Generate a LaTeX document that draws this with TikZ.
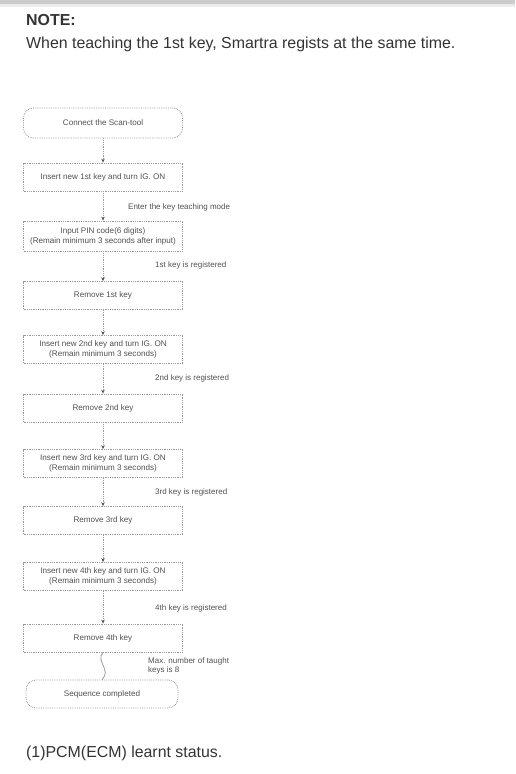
\documentclass[tikz,border=0pt]{standalone}
\usepackage{fontspec}
\setmainfont{Liberation Sans}
\usetikzlibrary{arrows.meta}

\definecolor{txt}{HTML}{333333}
\definecolor{boxline}{HTML}{999999}
\definecolor{boxtext}{HTML}{505050}

\tikzset{
  stepbox/.style={draw=boxline, densely dotted, line width=0.8pt, minimum width=159pt,
    minimum height=28pt, inner sep=0pt, font=\fontsize{8.1}{10}\selectfont, text=boxtext, align=center},
  endbox/.style={stepbox, rounded corners=10pt},
  flow/.style={draw=boxline, densely dotted, line width=0.8pt, -{Stealth[length=4pt,width=3.5pt,color=boxtext]}},
  note/.style={font=\fontsize{8}{9.5}\selectfont, text=boxtext, anchor=west, align=left, inner sep=0pt},
}

\begin{document}
\begin{tikzpicture}[x=1pt, y=-1pt]
		\useasboundingbox (0,0) rectangle (515,774);
		\fill[gray!40] (0,0) rectangle (515,4);
		\fill[gray!15] (0,4) rectangle (515,7);
		\node[anchor=base west, inner sep=0pt, text=txt, font=\bfseries\fontsize{15.9}{19}\selectfont] (title) at (26,25) {NOTE:};
		\node[anchor=base west, inner sep=0pt, text=txt, font=\fontsize{15.9}{19}\selectfont] (intro) at (26,48) {When teaching the 1st key, Smartra regists at the same time.};
		% flow chart
		\node[endbox, minimum height=30pt] (start) at (103,123) {Connect the Scan-tool};
		\node[stepbox] (k1) at (103,177) {Insert new 1st key and turn IG. ON};
		\node[stepbox, minimum height=30pt] (pin) at (103,236) {Input PIN code(6 digits)\\(Remain minimum 3 seconds after input)};
		\node[stepbox] (rm1) at (103,295.5) {Remove 1st key};
		\node[stepbox] (k2) at (103,349.5) {Insert new 2nd key and turn IG. ON\\(Remain minimum 3 seconds)};
		\node[stepbox] (rm2) at (103,408) {Remove 2nd key};
		\node[stepbox] (k3) at (103,463.5) {Insert new 3rd key and turn IG. ON\\(Remain minimum 3 seconds)};
		\node[stepbox] (rm3) at (103,520.5) {Remove 3rd key};
		\node[stepbox] (k4) at (103,576.5) {Insert new 4th key and turn IG. ON\\(Remain minimum 3 seconds)};
		\node[stepbox] (rm4) at (103,638) {Remove 4th key};
		\node[endbox, minimum width=152pt] (done) at (102,694) {Sequence completed};
		% side notes
		\node[note] (enter) at (128,207) {Enter the key teaching mode};
		\node[note] (reg1) at (155,265) {1st key is registered};
		\node[note] (reg2) at (155,378) {2nd key is registered};
		\node[note] (reg3) at (155,492) {3rd key is registered};
		\node[note] (reg4) at (155,608) {4th key is registered};
		\node[note] (max) at (148,666) {Max. number of taught\\keys is 8};
		\draw[flow] (start) -- (k1);
		\draw[flow] (k1) -- (pin);
		\draw[flow] (pin) -- (rm1);
		\draw[flow] (rm1) -- (k2);
		\draw[flow] (k2) -- (rm2);
		\draw[flow] (rm2) -- (k3);
		\draw[flow] (k3) -- (rm3);
		\draw[flow] (rm3) -- (k4);
		\draw[flow] (k4) -- (rm4);
		\draw[boxline, line width=0.8pt] (rm4.south) .. controls (95,661) and (112,670) .. (done.north);
		\node[anchor=base west, inner sep=0pt, text=txt, font=\fontsize{15.9}{19}\selectfont] (status) at (26,757) {(1)PCM(ECM) learnt status.};
	\end{tikzpicture}
\end{document}
